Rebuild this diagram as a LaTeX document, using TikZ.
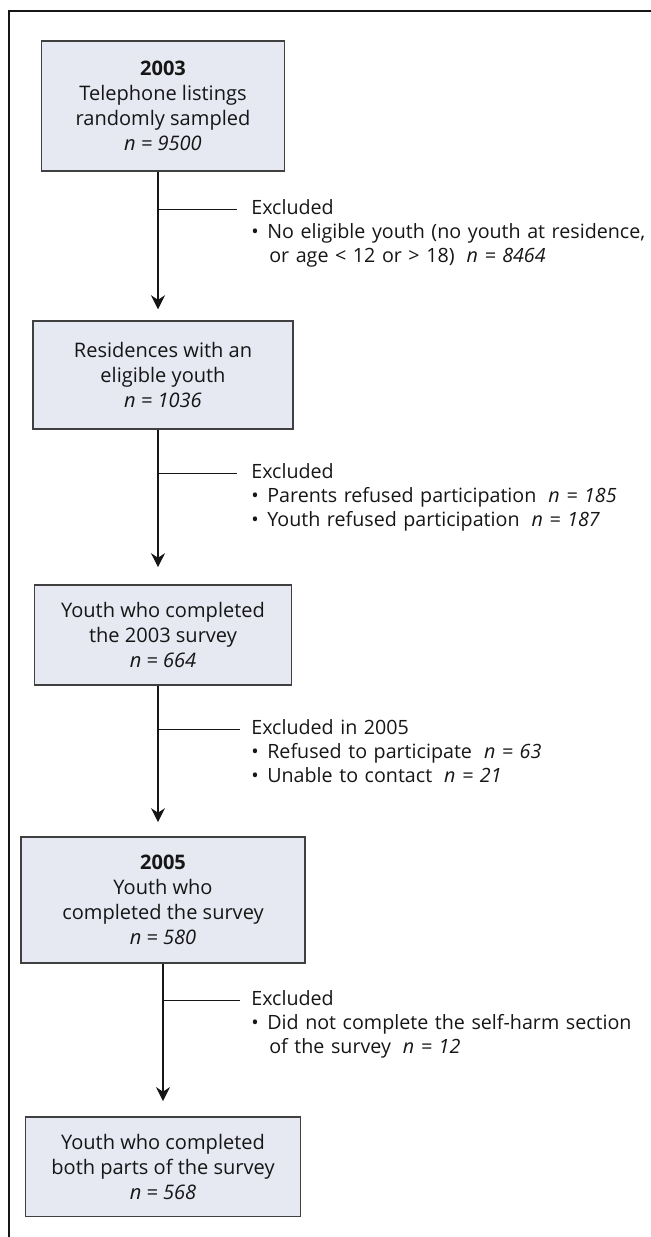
\documentclass[tikz,border=0pt]{standalone}
\usepackage{fontspec}
\setmainfont{Open Sans}
\usetikzlibrary{arrows.meta}

\definecolor{boxfill}{RGB}{230,232,242}
\definecolor{boxline}{RGB}{64,64,64}
\definecolor{ink}{RGB}{22,22,22}

\begin{document}
\begin{tikzpicture}[x=0.02cm, y=-0.02cm, node distance=5.3cm,
    stage/.style={rectangle, draw=boxline, fill=boxfill, line width=0.8pt, text=ink, align=center, inner sep=0pt, font=\fontsize{11.4pt}{14.2pt}\selectfont},
    excl/.style={text=ink, text width=9cm, align=left, inner sep=0pt, anchor=base west, font=\fontsize{11.2pt}{13.7pt}\selectfont},
    branch/.style={draw=ink, line width=0.7pt},
    feed/.style={branch, -{Stealth[length=0.28cm, width=0.28cm]}, shorten >=0.28cm}]

    \useasboundingbox (0,0) rectangle (651,1237);

    % outer frame (left and top rules only)
    \draw[ink, line width=0.9pt] (9,1237) -- (9,11) -- (651,11);

    % the five stages of the sample
    \node (listings) [stage, minimum width=4.86cm, minimum height=2.6cm] at (163,106) {\textbf{2003}\\Telephone listings\\randomly sampled\\\textit{n = 9500}};
    \node (residences) [stage, below of=listings, yshift=-0.08cm, minimum width=5.2cm, minimum height=2.16cm] {Residences with an\\eligible youth\\\textit{n = 1036}};
    \node (survey03) [stage, below of=residences, yshift=0.1cm, minimum width=5.14cm, minimum height=2cm] {Youth who completed\\the 2003 survey\\\textit{n = 664}};
    \node (survey05) [stage, below of=survey03, minimum width=5.68cm, minimum height=2.52cm] {\textbf{2005}\\Youth who\\completed the survey\\\textit{n = 580}};
    \node (final) [stage, below of=survey05, yshift=-0.04cm, minimum width=5.5cm, minimum height=2cm] {Youth who completed\\both parts of the survey\\\textit{n = 568}};

    % Arrows between them
    \draw[feed, shorten >=0.22cm] ([xshift=-0.1cm]listings.south) -- ([xshift=-0.1cm]residences.north);
    \draw[feed, shorten >=0.34cm] ([xshift=-0.1cm]residences.south) -- ([xshift=-0.1cm]survey03.north);
    \draw[feed] ([xshift=-0.1cm]survey03.south) -- ([xshift=-0.1cm]survey05.north);
    \draw[feed, shorten >=0.3cm] (survey05.south) -- (final.north);

    % Excluded: no eligible youth
    \coordinate (cut1) at ([xshift=-0.1cm, yshift=-0.76cm]listings.south);
    \node (excl1) [excl] at ([xshift=1.86cm, yshift=-0.1cm]cut1) {Excluded\\\makebox[0.32cm][l]{\textbullet}No eligible youth (no youth at residence,\\\hspace*{0.36cm}or age < 12 or > 18)\hspace{0.24cm}\textit{n = 8464}};
    \draw[branch] (cut1) -- ([xshift=-0.28cm, yshift=0.1cm]excl1.base west);

    % Excluded: refusals
    \coordinate (cut2) at ([xshift=-0.1cm, yshift=-0.88cm]residences.south);
    \node (excl2) [excl] at ([xshift=1.86cm, yshift=-0.1cm]cut2) {Excluded\\\makebox[0.32cm][l]{\textbullet}Parents refused participation\hspace{0.24cm}\textit{n = 185}\\\makebox[0.32cm][l]{\textbullet}Youth refused participation\hspace{0.24cm}\textit{n = 187}};
    \draw[branch] (cut2) -- ([xshift=-0.28cm, yshift=0.1cm]excl2.base west);

    % Excluded in 2005
    \coordinate (cut3) at ([xshift=-0.1cm, yshift=-0.88cm]survey03.south);
    \node (excl3) [excl] at ([xshift=1.86cm, yshift=-0.1cm]cut3) {Excluded in 2005\\\makebox[0.32cm][l]{\textbullet}Refused to participate\hspace{0.24cm}\textit{n = 63}\\\makebox[0.32cm][l]{\textbullet}Unable to contact\hspace{0.24cm}\textit{n = 21}};
    \draw[branch] (cut3) -- ([xshift=-0.22cm, yshift=0.1cm]excl3.base west);

    % Excluded: self-harm section missing
    \coordinate (cut4) at ([yshift=-0.74cm]survey05.south);
    \node (excl4) [excl] at ([xshift=1.76cm, yshift=-0.1cm]cut4) {Excluded\\\makebox[0.32cm][l]{\textbullet}Did not complete the self-harm section\\\hspace*{0.36cm}of the survey\hspace{0.24cm}\textit{n = 12}};
    \draw[branch] (cut4) -- ([xshift=-0.22cm, yshift=0.1cm]excl4.base west);

\end{tikzpicture}
\end{document}
